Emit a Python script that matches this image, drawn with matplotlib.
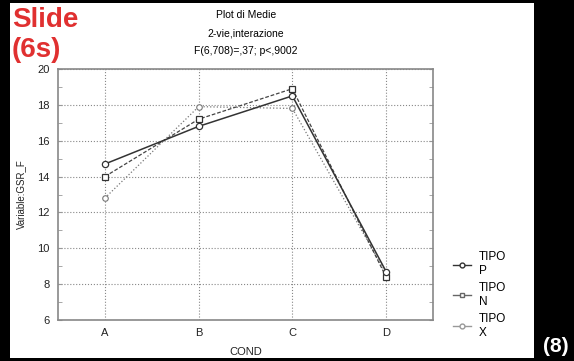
import matplotlib.pyplot as plt
from matplotlib.patches import Rectangle
from matplotlib.ticker import MultipleLocator

plt.rcParams['font.family'] = ['Liberation Sans', 'DejaVu Sans']

# means per condition for each TIPO group
cond = ['A', 'B', 'C', 'D']
tipo_p = [14.7, 16.8, 18.5, 8.7]
tipo_n = [14.0, 17.2, 18.9, 8.4]
tipo_x = [12.8, 17.9, 17.8, 8.6]

fig = plt.figure(figsize=(5.74, 3.61), dpi=100)
fig.patch.set_facecolor('black')
# white slide area inside the black frame
fig.patches.append(Rectangle((10 / 574, 3 / 361), 524 / 574, 355 / 361,
                             transform=fig.transFigure, facecolor='white',
                             edgecolor='none', zorder=-5))

ax = fig.add_axes([58 / 574, 1 - 320 / 361, 375 / 574, 251 / 361])
x = range(len(cond))
ax.plot(x, tipo_p, '-', color='#333333', lw=1.1, marker='o', ms=4.5,
        mfc='white', mec='#333333', mew=0.9, zorder=4)
ax.plot(x, tipo_n, '--', color='#444444', lw=0.9, marker='s', ms=4.5,
        mfc='white', mec='#333333', mew=0.9, dashes=(3, 1.5), zorder=3)
ax.plot(x, tipo_x, ':', color='#777777', lw=0.9, marker='o', ms=4,
        mfc='white', mec='#777777', mew=0.8, zorder=2)

# legend entries use plain solid handles with small markers
h1, = ax.plot([], [], '-', color='#333333', lw=1, marker='o', ms=3.5, mfc='white', mec='#333333')
h2, = ax.plot([], [], '-', color='#666666', lw=1, marker='s', ms=3.5, mfc='white', mec='#666666')
h3, = ax.plot([], [], '-', color='#999999', lw=1, marker='o', ms=3.5, mfc='white', mec='#999999')

ax.set_xlim(-0.5, 3.5)
ax.set_ylim(6, 20)
ax.set_xticks(list(x))
ax.set_xticklabels(cond)
ax.yaxis.set_major_locator(MultipleLocator(2))
ax.yaxis.set_minor_locator(MultipleLocator(1))
ax.tick_params(axis='both', labelsize=8, length=0, pad=6, colors='#222222')
ax.tick_params(axis='y', which='minor', direction='in', length=3, left=True, right=True, color='#999999')
ax.tick_params(axis='y', which='major', right=True, direction='in', length=3, color='#999999')
ax.grid(True, which='major', linestyle=':', color='#888888', lw=0.8)
for s in ax.spines.values():
    s.set_color('#888888')
    s.set_linewidth(1.2)

ax.set_xlabel('COND', fontsize=8, labelpad=6, color='#222222')
ax.set_ylabel('Variable:GSR_F', fontsize=7, labelpad=8, color='#222222')

leg = ax.legend([h1, h2, h3], ['TIPO\nP', 'TIPO\nN', 'TIPO\nX'],
                loc='center left', bbox_to_anchor=(1.025, 0.1), frameon=False,
                fontsize=8.5, handlelength=1.5, labelspacing=0.42, handletextpad=0.7)
for t in leg.get_texts():
    t.set_multialignment('left')

fig.text(246 / 574, 1 - 15 / 361, 'Plot di Medie', ha='center', va='center', fontsize=7.5)
fig.text(246 / 574, 1 - 34 / 361, '2-vie,interazione', ha='center', va='center', fontsize=7.5)
fig.text(246 / 574, 1 - 51 / 361, 'F(6,708)=,37; p<,9002', ha='center', va='center', fontsize=7.5)

fig.text(12 / 574, 1 - 20 / 361, 'Slide', ha='left', va='center', fontsize=20,
         color='#e03030', fontweight='bold')
fig.text(12 / 574, 1 - 50 / 361, '(6s)', ha='left', va='center', fontsize=20,
         color='#e03030', fontweight='bold')
fig.text(556 / 574, 1 - 347 / 361, '(8)', ha='center', va='center', fontsize=15,
         color='white', fontweight='bold')

fig.savefig('out.png', dpi=100, facecolor=fig.get_facecolor())
